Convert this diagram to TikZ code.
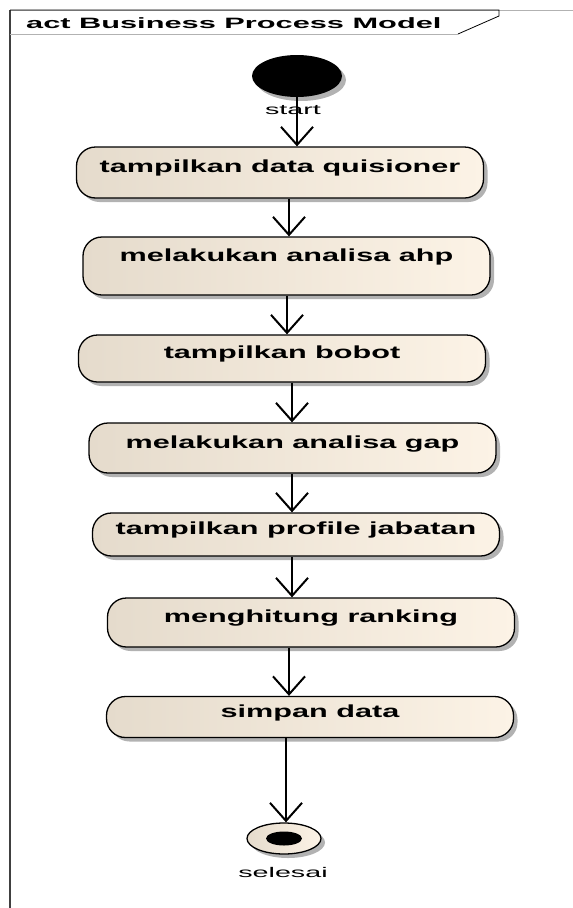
\documentclass[tikz,border=0pt]{standalone}
\usepackage{fontspec}
\setmainfont{Liberation Sans}
\newfontfamily\actfont{Liberation Sans}[FakeStretch=1.75]
\newfontfamily\framefont{Liberation Sans}[FakeStretch=2.05]
\usepackage{tikz}
\usetikzlibrary{arrows.meta,shapes.geometric,shadows}

\definecolor{actleft}{RGB}{229,219,204}
\definecolor{actright}{RGB}{252,243,230}
\definecolor{shadowgray}{RGB}{178,178,178}

\begin{document}
\begin{tikzpicture}[x=1pt, y=-1pt, >={Straight Barb[length=18pt,width=32pt]},
    act/.style={draw, line width=1.3pt, rounded corners=19pt,
        minimum width=407pt, left color=actleft, right color=actright,
        drop shadow={shadow xshift=4pt, shadow yshift=-4pt, fill=shadowgray, opacity=1},
        font=\actfont\bfseries\fontsize{17.5}{20}\selectfont,
        text height=12pt, text depth=12pt, inner sep=0pt},
    flow/.style={->, line width=2pt},
    lbl/.style={font=\framefont\fontsize{14}{16}\selectfont, inner sep=0pt}]
    %% Background
    \useasboundingbox (0,0) rectangle (573,908);

    %% Frame
    \draw[shadowgray, line width=1pt] (10,10) -- (573,10);
    \draw[black!75, line width=1.6pt] (10,10) -- (10,908);
    \draw[shadowgray, line width=1pt] (458,34) -- (10,34);
    \draw[line width=0.8pt] (10,10) -- (499,10) -- (499,16) -- (458,34);
    \node[anchor=west, inner sep=0pt, font=\framefont\bfseries\fontsize{15}{18}\selectfont]
        (title) at (26,23) {act Business Process Model};

    %% Start
    \node[ellipse, fill=black, minimum width=90pt, minimum height=42pt,
        drop shadow={shadow xshift=4pt, shadow yshift=-4pt, fill=shadowgray, opacity=1}]
        (start) at (297,76) {};
    \node[lbl] (startlbl) at (293,110) {start};

    %% Activities
    \node[act, minimum height=51pt] (quis) at (280,172.5) {tampilkan data quisioner};
    \node[act, minimum height=58pt, text depth=22pt] (ahp) at (286.5,266) {melakukan analisa ahp};
    \node[act, minimum height=47pt] (bobot) at (282,358.5) {tampilkan bobot};
    \node[act, minimum height=50pt] (gap) at (292.5,448) {melakukan analisa gap};
    \node[act, minimum height=43pt] (profil) at (296,534.5) {tampilkan profile jabatan};
    \node[act, minimum height=49pt] (rank) at (311,622.5) {menghitung ranking};
    \node[act, minimum height=41pt] (simpan) at (310,717) {simpan data};

    %% Final
    \node[ellipse, draw, line width=1.3pt, minimum width=74pt, minimum height=31pt,
        left color=actleft, right color=actright,
        drop shadow={shadow xshift=4pt, shadow yshift=-4pt, fill=shadowgray, opacity=1}]
        (fin) at (284,838.5) {};
    \node[ellipse, fill=black, minimum width=36pt, minimum height=14pt, inner sep=0pt]
        (findot) at (fin) {};
    \node[lbl] (finlbl) at (283,872) {selesai};

    %% Flows
    \draw[flow] (start.south) -- (quis.north -| start.south);
    \draw[flow] (quis.south -| 289,0) -- (ahp.north -| 289,0);
    \draw[flow] (ahp.south -| 287,0) -- (bobot.north -| 287,0);
    \draw[flow] (bobot.south -| 292,0) -- (gap.north -| 292,0);
    \draw[flow] (gap.south -| 292,0) -- (profil.north -| 292,0);
    \draw[flow] (profil.south -| 292,0) -- (rank.north -| 292,0);
    \draw[flow] (rank.south -| 289,0) -- (simpan.north -| 289,0);
    \draw[flow] (simpan.south -| 286,0) -- (fin.north -| 286,0);

\end{tikzpicture}
\end{document}
